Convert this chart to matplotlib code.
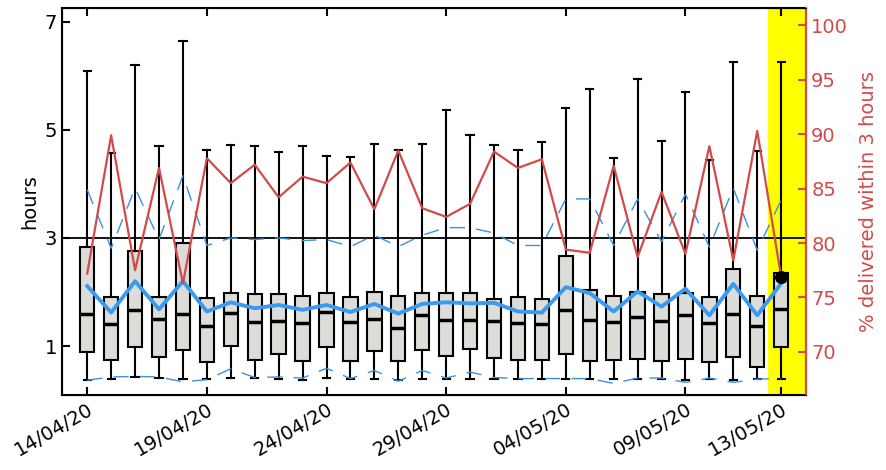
import matplotlib
matplotlib.use("Agg")
import matplotlib.pyplot as plt
import numpy as np

days = ["14/04/20", "15/04/20", "16/04/20", "17/04/20", "18/04/20", "19/04/20",
        "20/04/20", "21/04/20", "22/04/20", "23/04/20", "24/04/20", "25/04/20",
        "26/04/20", "27/04/20", "28/04/20", "29/04/20", "30/04/20", "01/05/20",
        "02/05/20", "03/05/20", "04/05/20", "05/05/20", "06/05/20", "07/05/20",
        "08/05/20", "09/05/20", "10/05/20", "11/05/20", "12/05/20", "13/05/20"]

whisk_hi = [6.09, 4.57, 6.20, 4.70, 6.64, 4.63, 4.72, 4.70, 4.58, 4.69, 4.52, 4.49,
            4.73, 4.63, 4.74, 5.37, 4.91, 4.72, 4.63, 4.77, 5.41, 5.75, 4.47, 5.94,
            4.80, 5.69, 4.44, 6.25, 4.60, 6.26]
q3 = [2.84, 1.91, 2.75, 1.91, 2.91, 1.89, 1.98, 1.96, 1.96, 1.93, 1.98, 1.91,
      2.00, 1.92, 1.98, 1.99, 1.99, 1.87, 1.91, 1.88, 2.67, 2.04, 1.93, 2.00,
      1.96, 1.99, 1.90, 2.42, 1.93, 2.35]
median = [1.60, 1.41, 1.67, 1.51, 1.60, 1.37, 1.62, 1.44, 1.47, 1.42, 1.63, 1.44,
          1.51, 1.34, 1.58, 1.49, 1.49, 1.47, 1.42, 1.40, 1.67, 1.48, 1.45, 1.53,
          1.46, 1.57, 1.43, 1.60, 1.38, 1.69]
q1 = [0.89, 0.74, 0.99, 0.80, 0.93, 0.71, 1.01, 0.74, 0.85, 0.73, 0.98, 0.72,
      0.91, 0.73, 0.93, 0.82, 0.94, 0.78, 0.74, 0.74, 0.86, 0.73, 0.75, 0.76,
      0.73, 0.76, 0.71, 0.79, 0.62, 0.98]
whisk_lo = [0.37, 0.40, 0.43, 0.41, 0.40, 0.39, 0.41, 0.41, 0.40, 0.37, 0.41, 0.39,
            0.40, 0.37, 0.40, 0.40, 0.40, 0.40, 0.40, 0.40, 0.40, 0.40, 0.40, 0.40,
            0.40, 0.38, 0.40, 0.38, 0.40, 0.40]
mean = [2.11, 1.62, 2.20, 1.68, 2.20, 1.64, 1.81, 1.70, 1.76, 1.67, 1.76, 1.63,
        1.78, 1.60, 1.78, 1.81, 1.79, 1.80, 1.64, 1.62, 2.09, 1.98, 1.64, 2.01,
        1.73, 2.06, 1.57, 2.15, 1.57, 2.16]
p_hi = [3.89, 2.81, 3.92, 2.97, 4.15, 2.86, 3.00, 2.97, 3.00, 2.95, 2.97, 2.84,
        3.05, 2.84, 3.05, 3.19, 3.19, 3.09, 2.86, 2.86, 3.72, 3.72, 2.86, 3.72,
        2.93, 3.81, 2.83, 3.92, 2.77, 3.70]
p_lo = [0.37, 0.43, 0.44, 0.43, 0.34, 0.38, 0.58, 0.42, 0.43, 0.41, 0.59, 0.40,
        0.55, 0.35, 0.55, 0.41, 0.52, 0.42, 0.40, 0.40, 0.40, 0.40, 0.31, 0.41,
        0.41, 0.33, 0.41, 0.33, 0.39, 0.40]
pct_3h = [77.2, 89.9, 77.5, 86.9, 76.3, 87.8, 85.5, 87.2, 84.2, 86.1, 85.5, 87.4,
          83.1, 88.5, 83.2, 82.4, 83.6, 88.4, 86.9, 87.7, 79.4, 79.1, 87.1, 78.7,
          84.7, 79.0, 88.9, 78.4, 90.3, 76.9]
last_day_pct = 76.9

RED = "#d24a4a"
x = np.arange(len(days))

fig = plt.figure(figsize=(8.87, 4.7), dpi=100)
ax = fig.add_axes([0.07, 0.16, 0.839, 0.823])

ax.axvspan(28.47, 30.1, color="#ffff00", zorder=0)

stats = [dict(whishi=whisk_hi[i], q3=q3[i], med=median[i], q1=q1[i],
              whislo=whisk_lo[i], fliers=[]) for i in x]
ax.bxp(stats, positions=x, widths=0.6, patch_artist=True, manage_ticks=False,
       boxprops=dict(facecolor="#dcdcd8", edgecolor="black", linewidth=1.5),
       medianprops=dict(color="black", linewidth=2.5),
       whiskerprops=dict(color="black", linewidth=1.5),
       capprops=dict(color="black", linewidth=1.5), capwidths=0.3)

ax.plot(x, p_hi, color="#3d8fe0", lw=1, dashes=(11, 8), zorder=3)
ax.plot(x, p_lo, color="#3d8fe0", lw=1, dashes=(11, 8), zorder=3)
ax.plot(x, mean, color="#3a9af0", lw=2.8, zorder=4)
ax.axhline(3, color="black", lw=1.3, zorder=2)

ax.set_xlim(-1.05, 30.05)
ax.set_ylim(0.1, 7.25)
ax.set_yticks([1, 3, 5, 7])
ax.set_ylabel("hours", fontsize=14)
ax.set_xticks(list(x[::5]) + [29])
ax.set_xticklabels([days[i] for i in x[::5]] + [days[29]], rotation=30,
                   ha="right", rotation_mode="anchor", fontsize=14)
ax.tick_params(axis="y", labelsize=14, direction="in", length=6, width=1.5)
ax.tick_params(axis="x", direction="in", length=6, width=1.5, top=True)
for s in ax.spines.values():
    s.set_linewidth(1.5)

ax2 = ax.twinx()
ax2.plot(x, pct_3h, color=RED, lw=1.6, zorder=5)
ax2.scatter([29], [last_day_pct], color="black", s=70, zorder=6)
ax2.set_ylim(66.05, 101.6)
ax2.set_yticks(range(70, 101, 5))
ax2.set_ylabel("% delivered within 3 hours", color=RED, fontsize=14, labelpad=8)
ax2.tick_params(axis="y", colors=RED, labelsize=14, direction="in", length=6, width=1.5)
ax2.spines["right"].set_color(RED)
ax2.spines["right"].set_linewidth(1.5)

fig.savefig("out.png")
